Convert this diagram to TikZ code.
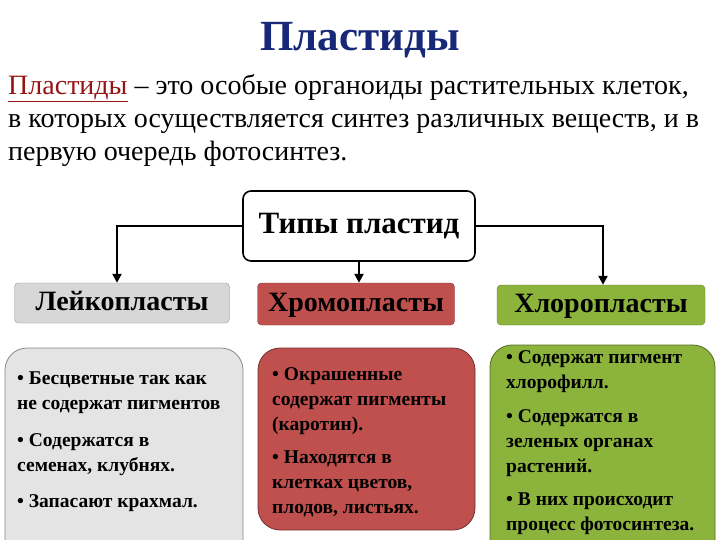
\documentclass[tikz,border=0pt]{standalone}
\usepackage{fontspec}
\setmainfont{Liberation Serif}
\usetikzlibrary{arrows.meta}
\definecolor{ttl}{RGB}{24,40,120}
\definecolor{dred}{RGB}{150,20,20}
\definecolor{rbox}{RGB}{192,80,77}
\definecolor{gbox}{RGB}{140,180,60}
\definecolor{lgray}{RGB}{215,215,215}
\definecolor{lgray2}{RGB}{228,228,228}
\tikzset{
  hdr/.style={rounded corners=4pt,draw=#1!70!black,fill=#1,font=\bfseries\fontsize{28}{30}\selectfont,inner sep=0pt},
  body/.style={rounded corners=22pt,draw=#1!60!black,fill=#1,line width=0.8pt},
  btxt/.style={anchor=north west,align=left,font=\bfseries\fontsize{19.5}{25}\selectfont,inner sep=0pt},
  conn/.style={line width=2.2pt,-{Triangle[length=9pt,width=9pt]}}
}
\begin{document}
\begin{tikzpicture}[x=1pt,y=-1pt]
\useasboundingbox (0,0) rectangle (720,540);
\fill[white] (0,0) rectangle (720,540);
\node[font=\bfseries\fontsize{43}{46}\selectfont,text=ttl] (title) at (360,40) {Пластиды};
\node[anchor=north west,align=left,inner sep=0pt,font=\fontsize{28}{33}\selectfont] (par) at (8,74)
 {\textcolor{dred}{\underline{Пластиды}} – это особые органоиды растительных клеток,\\
 в которых осуществляется синтез различных веществ, и в\\
 первую очередь фотосинтез.};
\node[draw,line width=1.6pt,rounded corners=8pt,minimum width=232pt,minimum height=70pt,font=\bfseries\fontsize{31}{33}\selectfont] (types) at (359,226) {Типы пластид};
\node[hdr=lgray,minimum width=215pt,minimum height=40pt,text depth=4pt] (leuk) at (122,303) {Лейкопласты};
\node[hdr=rbox,minimum width=197pt,minimum height=42pt,text depth=4pt] (chrom) at (356,304) {Хромопласты};
\node[hdr=gbox,minimum width=208pt,minimum height=40pt,text depth=4pt] (chlor) at (601,305) {Хлоропласты};
\coordinate (lc) at (117,226);
\coordinate (rc) at (603,226);
\draw[conn] (types.west) -- (lc) -- (leuk.north -| lc);
\draw[conn] (types.south) -- (chrom.north -| types.south);
\draw[conn] (types.east) -- (rc) -- (chlor.north -| rc);
\draw[body=lgray2] (5,560) -- (5,348) -- (243,348) -- (243,560);
\node[btxt] (l1) at (17,372) {• Бесцветные так как\\не содержат пигментов};
\node[btxt] (l2) at (17,433) {• Содержатся в\\семенах, клубнях.};
\node[btxt] (l3) at (17,494) {• Запасают крахмал.};
\draw[body=rbox] (258,348) rectangle (475,530);
\node[btxt] (c1) at (272,367) {• Окрашенные\\содержат пигменты\\(каротин).};
\node[btxt] (c2) at (272,451) {• Находятся в\\клетках цветов,\\плодов, листьях.};
\draw[body=gbox] (490,560) -- (490,345) -- (715,345) -- (715,560);
\node[btxt] (g1) at (506,350) {• Содержат пигмент\\хлорофилл.};
\node[btxt] (g2) at (506,409) {• Содержатся в\\зеленых органах\\растений.};
\node[btxt] (g3) at (506,493) {• В них происходит\\процесс фотосинтеза.};
\end{tikzpicture}
\end{document}
